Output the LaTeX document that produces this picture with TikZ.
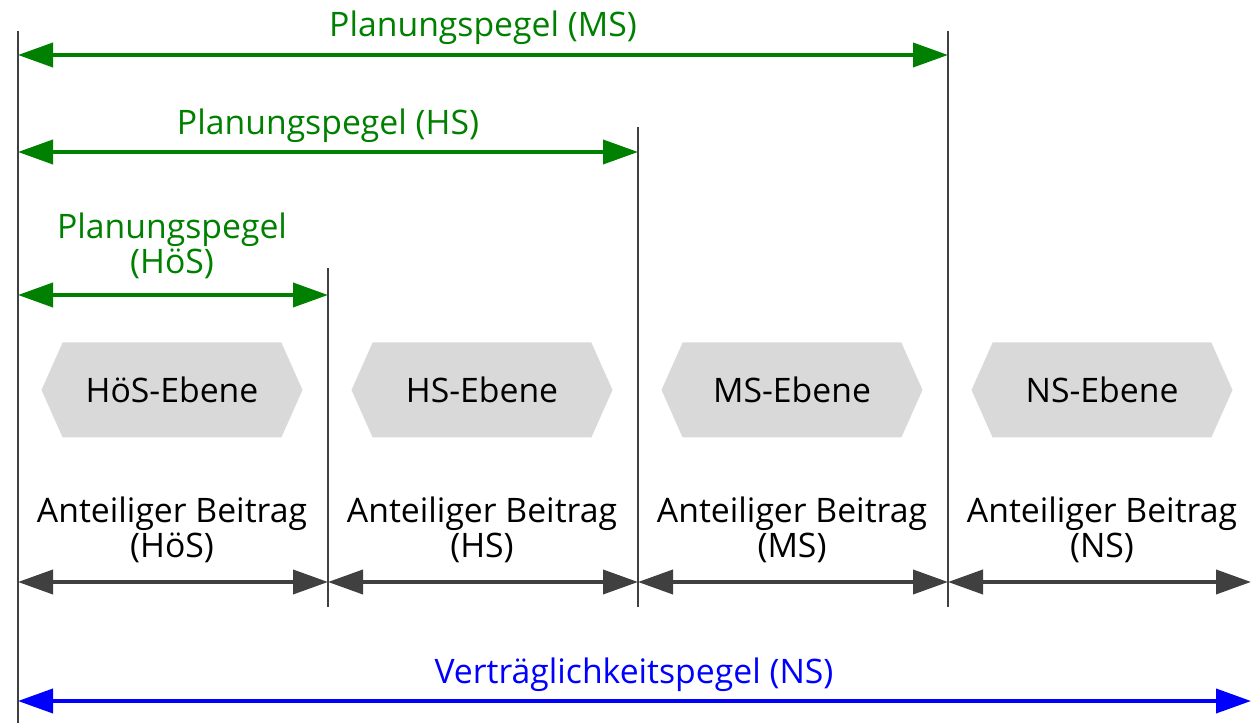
\documentclass[tikz,border=0pt]{standalone}
\usepackage{fontspec}
\setmainfont{Open Sans}
\usetikzlibrary{arrows.meta,shapes.symbols}

\definecolor{pegelgruen}{RGB}{0,128,0}
\definecolor{linie}{RGB}{64,64,64}
\definecolor{ebenegrau}{RGB}{217,217,217}

\tikzset{
  every node/.style={font=\fontsize{19.2pt}{20.2pt}\selectfont},
  grenze/.style={line width=1.3pt, draw=linie},
  pegel/.style={line width=2.2pt, {Triangle[length=0.7cm,width=0.48cm]}-{Triangle[length=0.7cm,width=0.48cm]}},
  ebene/.style={signal, signal to=west and east, signal pointer angle=132,
    fill=ebenegrau, minimum width=5.22cm, minimum height=1.9cm, inner sep=0pt},
  beitrag/.style={align=center, inner sep=0pt}
}

\begin{document}
\begin{tikzpicture}
  \useasboundingbox (0,0) rectangle (25.02,14.46);

  % Grenzen zwischen den Ebenen
  \coordinate (g1o) at (0.36,13.84);  \coordinate (g1u) at (0.36,0);
  \coordinate (g2o) at (6.56,9.1);    \coordinate (g2u) at (6.56,2.32);
  \coordinate (g3o) at (12.76,11.92); \coordinate (g3u) at (12.76,2.32);
  \coordinate (g4o) at (18.96,13.84); \coordinate (g4u) at (18.96,2.32);
  \coordinate (rand) at (25.02,0);
  \foreach \i in {1,...,4}
    \draw[grenze] (g\i o) -- (g\i u);

  % Hoehen der Pfeile
  \coordinate (ms) at (0,13.36);
  \coordinate (hs) at (0,11.42);
  \coordinate (hoes) at (0,8.56);
  \coordinate (ab) at (0,2.82);
  \coordinate (vt) at (0,0.44);

  % Planungspegel
  \draw[pegel, pegelgruen] (g1o |- ms) -- (g4o |- ms);
  \draw[pegel, pegelgruen] (g1o |- hs) -- (g3o |- hs);
  \draw[pegel, pegelgruen] (g1o |- hoes) -- (g2o |- hoes);
  \node[pegelgruen] (lms) at (9.66,13.9) {Planungspegel (MS)};
  \node[pegelgruen] (lhs) at (6.56,11.95) {Planungspegel (HS)};
  \node[pegelgruen, align=center] (lhoes) at (3.44,9.54) {Planungspegel\\(HöS)};

  % Ebenen und anteilige Beitraege
  \foreach \name [count=\i] in {HöS,HS,MS,NS} {
    \node[ebene] (e\i) at ({3.44+6.2*(\i-1)},6.66) {\name-Ebene};
    \node[beitrag] (b\i) at ({3.44+6.2*(\i-1)},3.86) {Anteiliger Beitrag\\(\name)};
  }
  \draw[pegel, linie] (g1u |- ab) -- (g2u |- ab);
  \draw[pegel, linie] (g2u |- ab) -- (g3u |- ab);
  \draw[pegel, linie] (g3u |- ab) -- (g4u |- ab);
  \draw[pegel, linie] (g4u |- ab) -- (rand |- ab);

  % Vertraeglichkeitspegel
  \draw[pegel, blue] (g1u |- vt) -- (rand |- vt);
  \node[blue] (lvt) at (12.68,0.97) {Verträglichkeitspegel (NS)};
\end{tikzpicture}
\end{document}
